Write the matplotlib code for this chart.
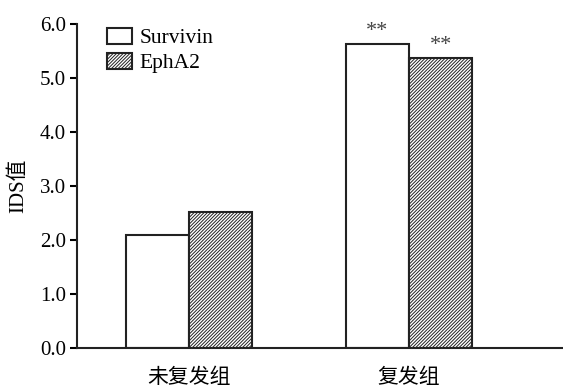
import numpy as np
import matplotlib
matplotlib.use("Agg")
import matplotlib.pyplot as plt

plt.rcParams['font.family'] = ['Liberation Serif', 'Noto Sans CJK SC']
plt.rcParams['hatch.linewidth'] = 0.7

groups = ['未复发组', '复发组']
survivin = [2.09, 5.63]
epha2 = [2.52, 5.37]
marks_survivin = ['', '**']
marks_epha2 = ['', '**']
yticks = [0, 1, 2, 3, 4, 5, 6]

fig = plt.figure(figsize=(5.63, 3.87), dpi=100)
ax = fig.add_axes([0.1368, 0.1008, 0.8632, 0.8372])

x = np.arange(len(groups))
w = 0.287
ax.bar(x - w / 2, survivin, w, facecolor='white', edgecolor='#222222',
       linewidth=1.5, label='Survivin')
ax.bar(x + w / 2, epha2, w, facecolor='white', edgecolor='#222222',
       linewidth=1.5, hatch='//////////', label='EphA2')

# significance marks
for xi, v, m in zip(x - w / 2, survivin, marks_survivin):
    if m:
        ax.text(xi, v + 0.06, m, ha='center', va='bottom', fontsize=16, color='#444444')
for xi, v, m in zip(x + w / 2, epha2, marks_epha2):
    if m:
        ax.text(xi, v + 0.06, m, ha='center', va='bottom', fontsize=16, color='#444444')

ax.set_xlim(-0.509, 1.70)
ax.set_ylim(0, 6)
ax.set_yticks(yticks)
ax.set_yticklabels([f'{t:.1f}' for t in yticks], fontsize=15)
ax.set_xticks(x)
ax.set_xticklabels(groups, fontsize=15)
ax.tick_params(axis='x', length=0, pad=15)
ax.tick_params(axis='y', direction='out', length=5, width=1.5, pad=3)
ax.set_ylabel('IDS值', fontsize=15, labelpad=8)

for s in ['top', 'right']:
    ax.spines[s].set_visible(False)
for s in ['left', 'bottom']:
    ax.spines[s].set_linewidth(1.5)
    ax.spines[s].set_color('#222222')

ax.legend(loc='upper left', bbox_to_anchor=(0.062, 0.988), frameon=False,
          fontsize=15.5, handlelength=1.15, handleheight=0.75, handletextpad=0.35,
          labelspacing=0.22, borderaxespad=0, borderpad=0)

fig.savefig('out.png', dpi=100)
